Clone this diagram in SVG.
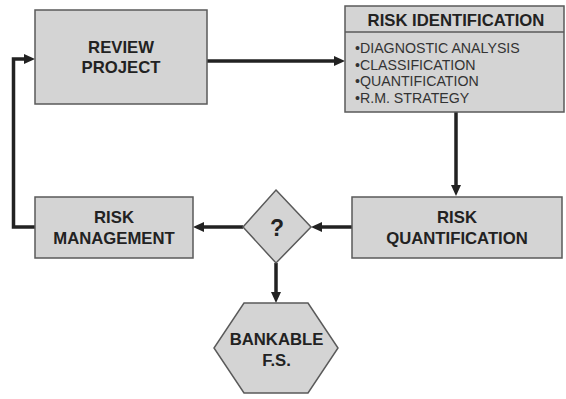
<svg xmlns="http://www.w3.org/2000/svg" width="566" height="399" viewBox="0 0 566 399">
<defs>
<style>
.box{fill:#d4d4d4;stroke:#5a5a5a;stroke-width:1.5}
.t{font-family:"Liberation Sans",Arial,sans-serif;font-weight:bold;font-size:16.7px;fill:#222;text-anchor:middle}
.b{font-family:"Liberation Sans",Arial,sans-serif;font-size:14.2px;fill:#333}
.c{fill:none;stroke:#222;stroke-width:3.5}
</style>
<marker id="ah" markerUnits="userSpaceOnUse" markerWidth="12" markerHeight="12" refX="2" refY="5" orient="auto">
<path d="M0,0 L11,5 L0,10 z" fill="#222"/>
</marker>
</defs>
<rect width="566" height="399" fill="#fff"/>
<g id="connectors">
<path class="c" d="M207,61 H336" marker-end="url(#ah)"/>
<path class="c" d="M456,112 V187" marker-end="url(#ah)"/>
<path class="c" d="M352,227 H320" marker-end="url(#ah)"/>
<path class="c" d="M243,227 H202" marker-end="url(#ah)"/>
<path class="c" d="M35,227 H13.5 V59 H26" marker-end="url(#ah)"/>
<path class="c" d="M276,263 V294" stroke="#333" marker-end="url(#ah)"/>
</g>
<g id="review">
<rect class="box" x="35" y="10" width="172" height="94"/>
<text class="t" x="121" y="53">REVIEW</text>
<text class="t" x="121" y="73">PROJECT</text>
</g>
<g id="identification">
<rect class="box" x="345" y="6" width="219" height="106"/>
<line x1="345" y1="32" x2="564" y2="32" stroke="#5a5a5a" stroke-width="1.5"/>
<text class="t" x="456" y="26">RISK IDENTIFICATION</text>
<text class="b" x="355" y="53">•DIAGNOSTIC ANALYSIS</text>
<text class="b" x="355" y="69.5">•CLASSIFICATION</text>
<text class="b" x="355" y="86">•QUANTIFICATION</text>
<text class="b" x="355" y="102.5">•R.M. STRATEGY</text>
</g>
<g id="quantification">
<rect class="box" x="352" y="197" width="210" height="61"/>
<text class="t" x="457" y="223">RISK</text>
<text class="t" x="457" y="244">QUANTIFICATION</text>
</g>
<g id="decision">
<polygon class="box" points="276,190 311,227 276,263 243,227"/>
<text class="t" x="277" y="236" style="font-size:23px">?</text>
</g>
<g id="management">
<rect class="box" x="35" y="197" width="158" height="61"/>
<text class="t" x="114" y="223">RISK</text>
<text class="t" x="114" y="244">MANAGEMENT</text>
</g>
<g id="bankable">
<polygon class="box" points="244,303 308,303 338,348 308,393 244,393 214,348"/>
<text class="t" x="276.5" y="345">BANKABLE</text>
<text class="t" x="276.5" y="366">F.S.</text>
</g>
</svg>
